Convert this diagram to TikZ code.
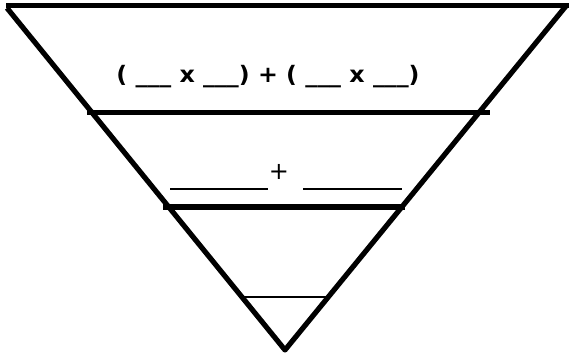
\documentclass[tikz,border=0pt]{standalone}
\usepackage{fontspec}
\setmainfont{DejaVu Sans}
\newfontfamily\plusfont{DejaVu Sans}
\begin{document}
\begin{tikzpicture}[x=0.75pt,y=-0.75pt,
  thickline/.style={line width=3.9pt},
  bandline/.style={line width=4.3pt},
  blankline/.style={line width=1.6pt},
  lbl/.style={inner sep=0pt,anchor=center}]
\useasboundingbox (0,0) rectangle (569,361);
\coordinate (tl) at (6,5.5);
\coordinate (tr) at (569,5.5);
\coordinate (lt) at (7,8);
\coordinate (apex) at (285,350);
\coordinate (rt) at (566,6);
\draw[thickline] (tl) -- (tr);
\draw[thickline,line join=round] (lt) -- (apex) -- (rt);
\coordinate (b1l) at (87,112.5);
\coordinate (b1r) at (490,112.5);
\draw[bandline] (b1l) -- (b1r);
\coordinate (b2l) at (163,207);
\coordinate (b2r) at (405,207);
\draw[bandline] (b2l) -- (b2r);
\node[lbl] (t1) at (268,77) {\scalebox{1.05}[1]{\fontsize{17}{19}\selectfont\bfseries ( \_\_\_ x \_\_\_) + ( \_\_\_ x \_\_\_)}};
\node[lbl] (plus) at (279,172) {\plusfont\fontsize{18}{20}\selectfont +};
\coordinate (u1l) at (170,189);
\coordinate (u1r) at (268,189);
\coordinate (u2l) at (303,189);
\coordinate (u2r) at (402,189);
\draw[blankline] (u1l) -- (u1r);
\draw[blankline] (u2l) -- (u2r);
\coordinate (u3l) at (243,297);
\coordinate (u3r) at (327,297);
\draw[blankline] (u3l) -- (u3r);
\end{tikzpicture}
\end{document}
